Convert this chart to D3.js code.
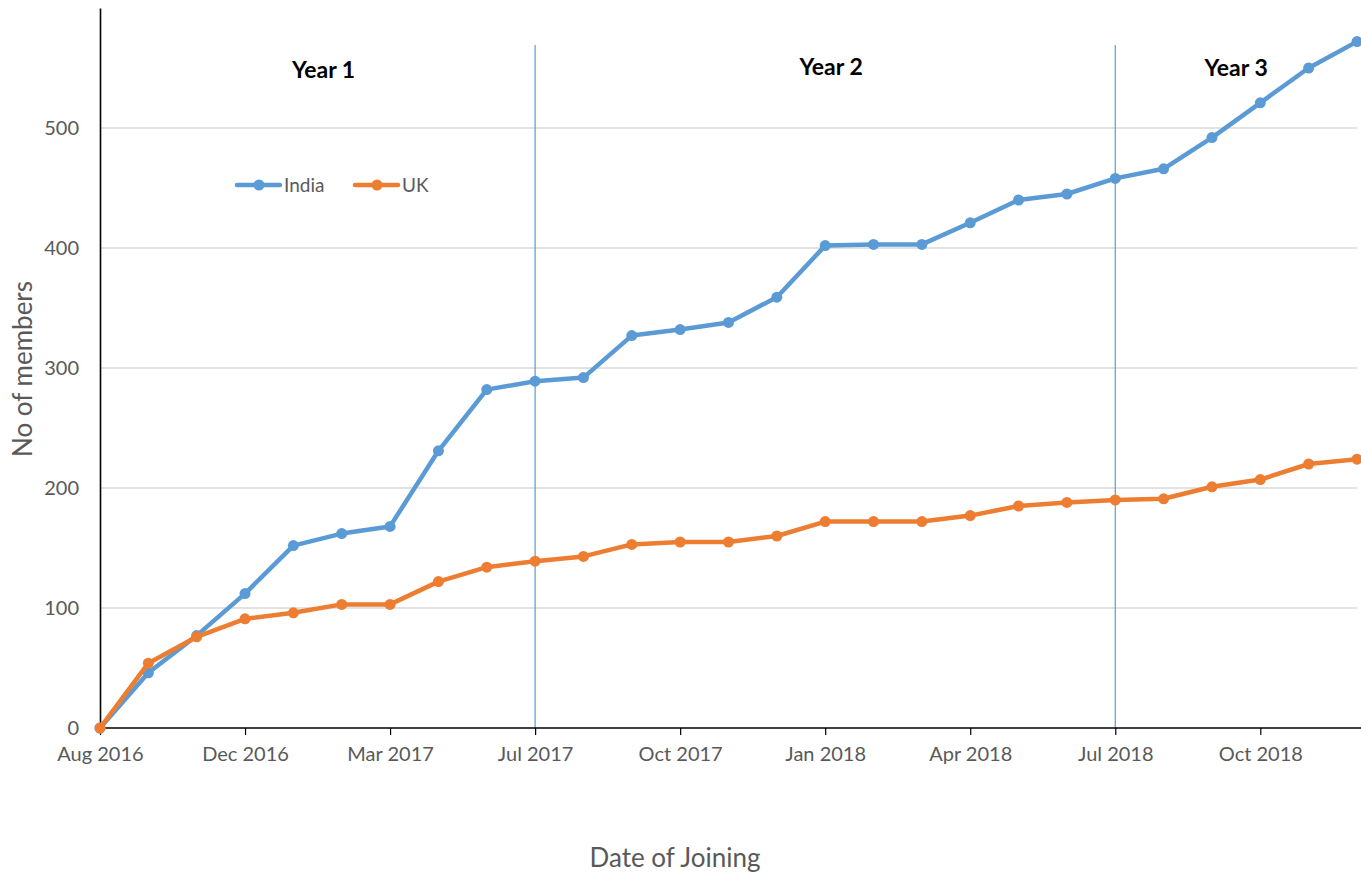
<!DOCTYPE html>
<html>
<head>
<meta charset="utf-8">
<script src="https://cdn.jsdelivr.net/npm/d3@7/dist/d3.min.js"></script>
<style>
  html, body { margin: 0; padding: 0; background: #fff; }
  svg { display: block; }
  text { font-family: Lato, "Open Sans", sans-serif; }
</style>
</head>
<body>
<svg id="chart" width="1361" height="875"></svg>
<script>
// Monthly joining dates (category axis, every third label shown)
const categories = [
  "Aug 2016", "Sep 2016", "Nov 2016", "Dec 2016", "Jan 2017", "Feb 2017",
  "Mar 2017", "Apr 2017", "Jun 2017", "Jul 2017", "Aug 2017", "Sep 2017",
  "Oct 2017", "Nov 2017", "Dec 2017", "Jan 2018", "Feb 2018", "Mar 2018",
  "Apr 2018", "May 2018", "Jun 2018", "Jul 2018", "Aug 2018", "Sep 2018",
  "Oct 2018", "Nov 2018", "Dec 2018"
];

// Cumulative members per chapter
const india = [
  0, 46, 77, 112, 152, 162, 168, 231, 282, 289, 292, 327,
  332, 338, 359, 402, 403, 403, 421, 440, 445, 458, 466, 492,
  521, 550, 572
];
const uk = [
  0, 54, 76, 91, 96, 103, 103, 122, 134, 139, 143, 153,
  155, 155, 160, 172, 172, 172, 177, 185, 188, 190, 191, 201,
  207, 220, 224
];

const yTicks = [0, 100, 200, 300, 400, 500];
const yearLabels = ["Year 1", "Year 2", "Year 3"];
const yearDividers = ["Jul 2017", "Jul 2018"];

const seriesList = [
  { name: "India", values: india, color: "#5b9bd5" },
  { name: "UK", values: uk, color: "#ed7d31" }
];

const svg = d3.select("#chart");
const margin = { left: 100, right: 4, top: 8, bottom: 147 };
const W = 1361, H = 875;

const x = d3.scalePoint()
  .domain(categories)
  .range([margin.left, W - margin.right]);

const y = d3.scaleLinear()
  .domain([0, 600])
  .range([H - margin.bottom, margin.top]);

// Horizontal gridlines
svg.append("g")
  .selectAll("line")
  .data(yTicks.filter(d => d > 0))
  .join("line")
  .attr("x1", margin.left)
  .attr("x2", W - margin.right)
  .attr("y1", d => y(d))
  .attr("y2", d => y(d))
  .attr("stroke", "#d9d9d9")
  .attr("stroke-width", 1.3);

// Year divider lines
svg.append("g")
  .selectAll("line")
  .data(yearDividers)
  .join("line")
  .attr("x1", d => x(d))
  .attr("x2", d => x(d))
  .attr("y1", 45)
  .attr("y2", y(0))
  .attr("stroke", "#5b9bd5")
  .attr("stroke-width", 1.2);

// Y axis
const yAxis = svg.append("g")
  .attr("transform", `translate(${margin.left},0)`)
  .call(d3.axisLeft(y).tickValues(yTicks).tickSize(0).tickPadding(21));
yAxis.select(".domain").attr("stroke", "#000").attr("stroke-width", 1.6);
yAxis.selectAll("text")
  .attr("fill", "#595959")
  .style("font-size", "20px")
  .style("font-family", "Lato, 'Open Sans', sans-serif");

// X axis
const shown = categories.filter((d, i) => i % 3 === 0);
const xAxis = svg.append("g")
  .attr("transform", `translate(0,${y(0)})`)
  .call(d3.axisBottom(x).tickValues(shown).tickSize(7).tickSizeOuter(0).tickPadding(12));
xAxis.select(".domain")
  .attr("stroke", "#000").attr("stroke-width", 1.6)
  .attr("d", `M${margin.left},0H${W}`);
xAxis.selectAll(".tick line").attr("stroke", "#000").attr("stroke-width", 1.2);
xAxis.selectAll("text")
  .attr("fill", "#595959")
  .style("font-size", "20px")
  .style("font-family", "Lato, 'Open Sans', sans-serif");

// Series lines and markers
const line = d3.line()
  .x((d, i) => x(categories[i]))
  .y(d => y(d));

seriesList.forEach(s => {
  const g = svg.append("g");
  g.append("path")
    .datum(s.values)
    .attr("d", line)
    .attr("fill", "none")
    .attr("stroke", s.color)
    .attr("stroke-width", 4.5)
    .attr("stroke-linejoin", "round")
    .attr("stroke-linecap", "round");
  g.selectAll("circle")
    .data(s.values)
    .join("circle")
    .attr("cx", (d, i) => x(categories[i]))
    .attr("cy", d => y(d))
    .attr("r", 5.5)
    .attr("fill", s.color);
});

// Year annotations, centred in each period
const yearX = [
  (x(categories[0]) + x("Jul 2017")) / 2 + 6,
  x("Jan 2018") + 6,
  (x("Jul 2018") + x(categories[categories.length - 1])) / 2 - 0
];
const yearY = [78, 75, 76];
svg.append("g")
  .selectAll("text")
  .data(yearLabels)
  .join("text")
  .attr("x", (d, i) => yearX[i])
  .attr("y", (d, i) => yearY[i])
  .attr("text-anchor", "middle")
  .attr("fill", "#000")
  .style("font-size", "23px")
  .style("font-weight", "bold")
  .text(d => d);

// Legend
const legend = svg.append("g").attr("transform", "translate(237,185)");
const legendItems = legend.selectAll("g")
  .data(seriesList)
  .join("g")
  .attr("transform", (d, i) => `translate(${i * 118},0)`);
legendItems.append("line")
  .attr("x1", 0).attr("x2", 43)
  .attr("y1", 0).attr("y2", 0)
  .attr("stroke", d => d.color)
  .attr("stroke-width", 4.5)
  .attr("stroke-linecap", "round");
legendItems.append("circle")
  .attr("cx", 22).attr("cy", 0).attr("r", 5.5)
  .attr("fill", d => d.color);
legendItems.append("text")
  .attr("x", 47).attr("y", 7)
  .attr("fill", "#595959")
  .style("font-size", "19px")
  .text(d => d.name);

// Axis titles
svg.append("text")
  .attr("x", 675).attr("y", 867)
  .attr("text-anchor", "middle")
  .attr("fill", "#595959")
  .style("font-size", "26px")
  .text("Date of Joining");

svg.append("text")
  .attr("transform", "translate(32,369) rotate(-90)")
  .attr("text-anchor", "middle")
  .attr("fill", "#595959")
  .style("font-size", "26px")
  .text("No of members");
</script>
</body>
</html>
